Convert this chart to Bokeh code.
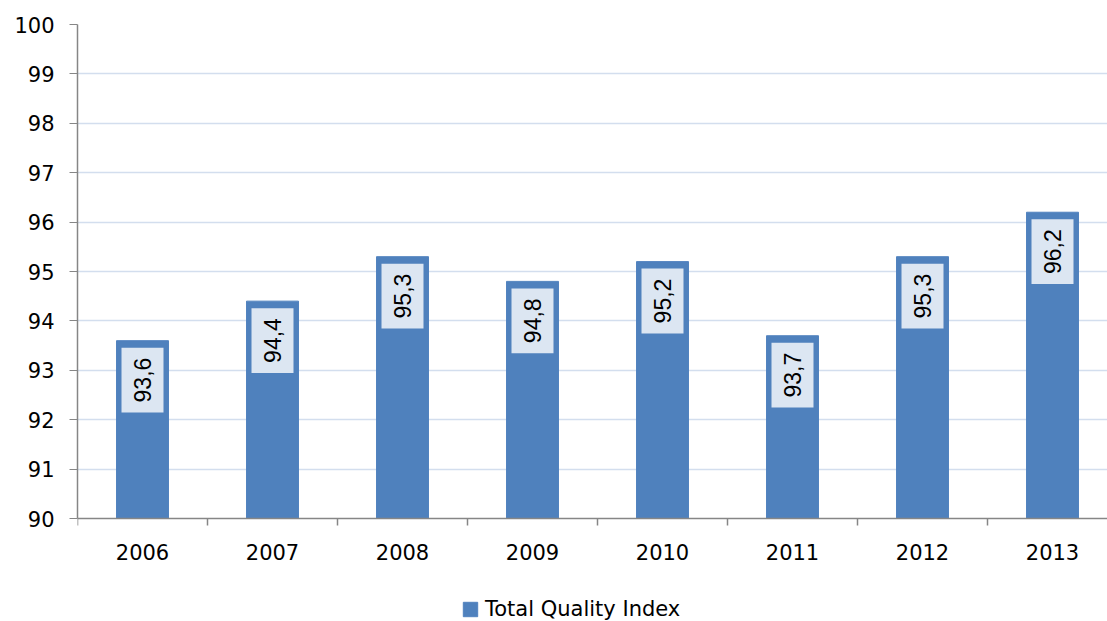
from bokeh.plotting import figure
from bokeh.models import (ColumnDataSource, FixedTicker, Legend, LegendItem, Range1d)
from bokeh.core.properties import value
from bokeh.embed import file_html
from bokeh.resources import INLINE

years = ["2006", "2007", "2008", "2009", "2010", "2011", "2012", "2013"]
quality_index = [93.6, 94.4, 95.3, 94.8, 95.2, 93.7, 95.3, 96.2]
y_ticks = [90, 91, 92, 93, 94, 95, 96, 97, 98, 99, 100]
series_name = "Total Quality Index"

idx = list(range(len(years)))
labels = [f"{v:.1f}".replace(".", ",") for v in quality_index]
src = ColumnDataSource(dict(x=idx, top=quality_index, label=labels))

# frame extends to the bottom so that the legend sits inside it; axis drawn at y=90
p = figure(width=1107, height=621, frame_width=1030, frame_height=597,
           output_backend="svg", toolbar_location=None,
           x_range=Range1d(-0.5, 7.423), y_range=Range1d(87.915, 100),
           min_border_left=77, min_border_right=0, min_border_top=24,
           min_border_bottom=0)
p.outline_line_color = None
p.background_fill_color = "white"

bars = p.vbar(x="x", top="top", bottom=90, width=0.4, source=src,
              fill_color="#4F81BD", line_color="#5283BF", line_width=1)

p.text(x="x", y="top", text="label", source=src, angle=1.5707963,
       text_align="right", text_baseline="middle", y_offset=7,
       text_font=value("Liberation Sans"), text_font_size="23px",
       text_color="black", background_fill_color="#DCE6F2",
       padding=dict(left=10, right=10, top=12, bottom=13))

# y axis
p.yaxis.ticker = FixedTicker(ticks=y_ticks)
p.yaxis.bounds = (y_ticks[0], y_ticks[-1])
p.yaxis.axis_line_color = "#868686"
p.yaxis.axis_line_width = 1.5
p.yaxis.major_tick_line_color = "#868686"
p.yaxis.major_tick_in = 0
p.yaxis.major_tick_out = 8
p.yaxis.minor_tick_line_color = None
p.yaxis.major_label_standoff = 15
p.yaxis.major_label_text_font = "DejaVu Sans"
p.yaxis.major_label_text_font_size = "21px"
p.yaxis.major_label_text_color = "black"

# x axis (drawn at the 90 baseline)
p.xaxis.fixed_location = y_ticks[0]
p.xaxis.ticker = FixedTicker(ticks=idx, minor_ticks=[i - 0.5 for i in idx] + [len(years) - 0.5])
p.xaxis.major_label_overrides = {i: y for i, y in zip(idx, years)}
p.xaxis.axis_line_color = "#868686"
p.xaxis.axis_line_width = 1.5
p.xaxis.major_tick_line_color = None
p.xaxis.major_tick_in = 0
p.xaxis.major_tick_out = 7
p.xaxis.minor_tick_line_color = "#868686"
p.xaxis.minor_tick_line_width = 1.5
p.xaxis.minor_tick_in = 0
p.xaxis.minor_tick_out = 7
p.xaxis.major_label_standoff = 18
p.xaxis.major_label_text_font = "DejaVu Sans"
p.xaxis.major_label_text_font_size = "21px"
p.xaxis.major_label_text_color = "black"

p.xgrid.grid_line_color = None
p.ygrid.ticker = FixedTicker(ticks=y_ticks[1:])
p.ygrid.grid_line_color = "#D3DEEE"
p.ygrid.grid_line_width = 1.5

legend = Legend(items=[LegendItem(label=series_name, renderers=[bars])],
                orientation="horizontal", location=(384, 0),
                border_line_color=None, background_fill_alpha=0,
                glyph_width=18, glyph_height=18, label_standoff=6,
                label_text_font="DejaVu Sans", label_text_font_size="21px",
                label_text_color="black", padding=0, margin=0)
p.add_layout(legend, "center")

open("out.html", "w").write(file_html(p, INLINE))
